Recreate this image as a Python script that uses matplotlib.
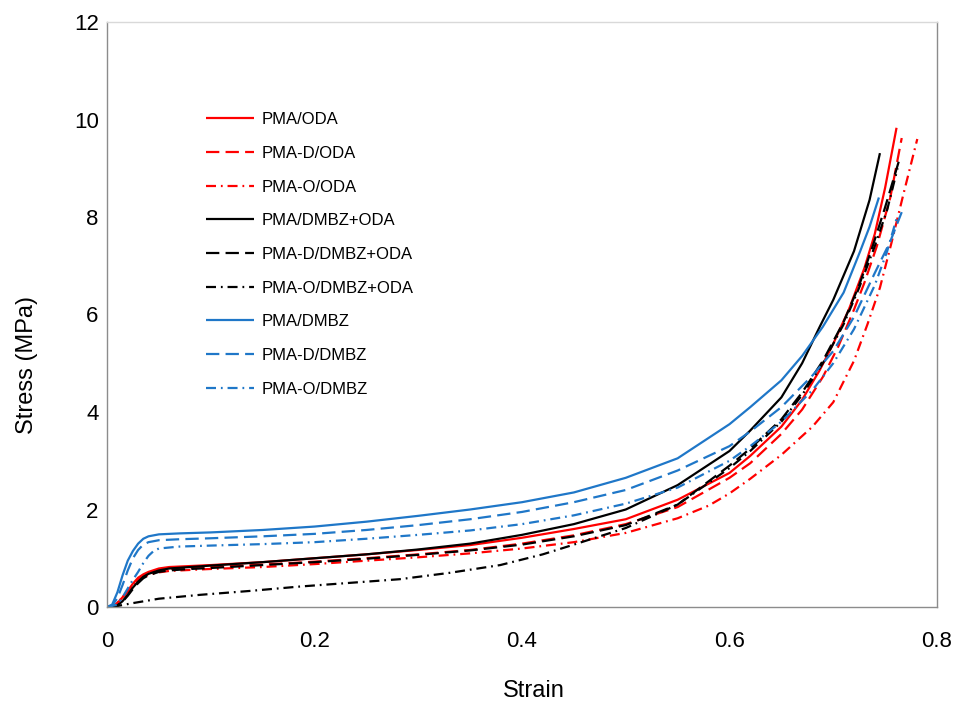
import matplotlib
matplotlib.use("Agg")
import matplotlib.pyplot as plt

plt.rcParams['font.family'] = ['Liberation Sans', 'DejaVu Sans']

# ---- data ----
pma_oda_x = [0, 0.008, 0.015, 0.02, 0.025, 0.03, 0.035, 0.04, 0.05, 0.06, 0.08, 0.1, 0.15, 0.2, 0.25, 0.3, 0.35, 0.4, 0.45, 0.5, 0.55, 0.6, 0.62, 0.65, 0.67, 0.687, 0.7, 0.715, 0.73, 0.74, 0.75, 0.761]
pma_oda_y = [0, 0.03, 0.2, 0.33, 0.48, 0.6, 0.67, 0.72, 0.79, 0.82, 0.84, 0.86, 0.92, 1.0, 1.08, 1.17, 1.27, 1.42, 1.6, 1.8, 2.2, 2.75, 3.1, 3.7, 4.25, 4.86, 5.4, 6.1, 6.95, 7.65, 8.6, 9.83]

pmad_oda_x = [0, 0.008, 0.015, 0.02, 0.025, 0.03, 0.035, 0.04, 0.05, 0.06, 0.08, 0.1, 0.15, 0.2, 0.25, 0.3, 0.35, 0.4, 0.45, 0.5, 0.55, 0.6, 0.62, 0.65, 0.67, 0.69, 0.705, 0.72, 0.73, 0.742, 0.755, 0.766]
pmad_oda_y = [0, 0.04, 0.2, 0.33, 0.46, 0.57, 0.64, 0.69, 0.75, 0.78, 0.8, 0.82, 0.87, 0.93, 1.0, 1.08, 1.17, 1.3, 1.47, 1.7, 2.05, 2.65, 2.95, 3.55, 4.05, 4.72, 5.35, 6.1, 6.65, 7.4, 8.4, 9.62]

pmao_oda_x = [0, 0.008, 0.015, 0.02, 0.025, 0.03, 0.035, 0.04, 0.05, 0.06, 0.08, 0.1, 0.15, 0.2, 0.25, 0.3, 0.35, 0.4, 0.45, 0.5, 0.55, 0.58, 0.6, 0.62, 0.65, 0.68, 0.7, 0.72, 0.733, 0.745, 0.756, 0.768, 0.781]
pmao_oda_y = [0, 0.04, 0.2, 0.32, 0.44, 0.54, 0.61, 0.66, 0.71, 0.74, 0.76, 0.78, 0.82, 0.88, 0.95, 1.02, 1.1, 1.2, 1.33, 1.52, 1.82, 2.08, 2.33, 2.63, 3.12, 3.7, 4.2, 5.05, 5.8, 6.55, 7.46, 8.5, 9.6]

pma_dmo_x = [0, 0.01, 0.015, 0.02, 0.025, 0.03, 0.035, 0.04, 0.05, 0.06, 0.08, 0.1, 0.15, 0.2, 0.25, 0.3, 0.35, 0.4, 0.45, 0.5, 0.55, 0.6, 0.62, 0.65, 0.67, 0.687, 0.7, 0.72, 0.735, 0.745]
pma_dmo_y = [0, 0.03, 0.12, 0.25, 0.4, 0.52, 0.62, 0.68, 0.75, 0.79, 0.82, 0.85, 0.92, 1.0, 1.08, 1.18, 1.3, 1.48, 1.7, 2.0, 2.5, 3.2, 3.62, 4.3, 5.0, 5.75, 6.3, 7.3, 8.35, 9.31]

pmad_dmo_x = [0, 0.01, 0.015, 0.02, 0.025, 0.03, 0.035, 0.04, 0.05, 0.06, 0.08, 0.1, 0.15, 0.2, 0.25, 0.3, 0.35, 0.4, 0.45, 0.5, 0.55, 0.6, 0.62, 0.65, 0.67, 0.69, 0.71, 0.725, 0.738, 0.75, 0.764]
pmad_dmo_y = [0, 0.03, 0.11, 0.23, 0.37, 0.49, 0.59, 0.65, 0.72, 0.75, 0.78, 0.8, 0.86, 0.92, 0.99, 1.07, 1.16, 1.28, 1.45, 1.68, 2.1, 2.9, 3.25, 3.85, 4.4, 5.05, 5.85, 6.6, 7.4, 8.2, 9.2]

pmao_dmo_x = [0.005, 0.025, 0.05, 0.09, 0.138, 0.186, 0.25, 0.282, 0.33, 0.379, 0.42, 0.45, 0.5, 0.55, 0.6, 0.62, 0.65, 0.67, 0.69, 0.71, 0.725, 0.74, 0.752, 0.762]
pmao_dmo_y = [0, 0.08, 0.17, 0.25, 0.33, 0.42, 0.52, 0.57, 0.7, 0.86, 1.08, 1.28, 1.62, 2.1, 2.85, 3.2, 3.8, 4.35, 5.0, 5.8, 6.55, 7.4, 8.15, 9.0]

pma_dm_x = [0, 0.005, 0.01, 0.015, 0.02, 0.025, 0.03, 0.035, 0.04, 0.05, 0.07, 0.1, 0.15, 0.2, 0.25, 0.3, 0.35, 0.4, 0.45, 0.5, 0.55, 0.6, 0.62, 0.65, 0.67, 0.69, 0.71, 0.726, 0.735, 0.744]
pma_dm_y = [0, 0.05, 0.3, 0.65, 0.95, 1.15, 1.3, 1.4, 1.45, 1.49, 1.51, 1.53, 1.58, 1.65, 1.75, 1.87, 2.0, 2.15, 2.35, 2.65, 3.05, 3.75, 4.1, 4.65, 5.15, 5.75, 6.45, 7.3, 7.8, 8.4]

pmad_dm_x = [0, 0.005, 0.01, 0.015, 0.02, 0.025, 0.03, 0.035, 0.04, 0.05, 0.07, 0.1, 0.15, 0.2, 0.25, 0.3, 0.35, 0.4, 0.45, 0.5, 0.55, 0.6, 0.62, 0.65, 0.68, 0.7, 0.72, 0.74, 0.755, 0.766]
pmad_dm_y = [0, 0.03, 0.18, 0.45, 0.75, 1.0, 1.17, 1.28, 1.33, 1.37, 1.39, 1.41, 1.45, 1.5, 1.58, 1.68, 1.8, 1.95, 2.15, 2.4, 2.8, 3.3, 3.6, 4.1, 4.75, 5.25, 5.95, 6.85, 7.5, 8.1]

pmao_dm_x = [0, 0.01, 0.015, 0.02, 0.025, 0.03, 0.035, 0.04, 0.045, 0.05, 0.07, 0.1, 0.15, 0.2, 0.25, 0.3, 0.35, 0.4, 0.45, 0.5, 0.55, 0.6, 0.62, 0.65, 0.68, 0.7, 0.72, 0.74, 0.752, 0.762]
pmao_dm_y = [0, 0.05, 0.2, 0.38, 0.56, 0.72, 0.9, 1.05, 1.15, 1.2, 1.24, 1.26, 1.29, 1.33, 1.4, 1.48, 1.57, 1.7, 1.88, 2.12, 2.45, 3.0, 3.3, 3.8, 4.45, 5.0, 5.7, 6.6, 7.3, 8.04]

labels = ["PMA/ODA", "PMA-D/ODA", "PMA-O/ODA",
          "PMA/DMBZ+ODA", "PMA-D/DMBZ+ODA", "PMA-O/DMBZ+ODA",
          "PMA/DMBZ", "PMA-D/DMBZ", "PMA-O/DMBZ"]
x_ticks = [0, 0.2, 0.4, 0.6, 0.8]
x_tick_labels = ["0", "0.2", "0.4", "0.6", "0.8"]
y_ticks = [0, 2, 4, 6, 8, 10, 12]

# ---- styling ----
RED = "#FF0000"
BLACK = "#000000"
BLUE = "#1F77C8"
solid = "-"
dashed = (0, (6, 2.8))
dashdot = (0, (4.5, 2.2, 0.8, 2.2))

series = [
    (pma_oda_x, pma_oda_y, RED, solid),
    (pmad_oda_x, pmad_oda_y, RED, dashed),
    (pmao_oda_x, pmao_oda_y, RED, dashdot),
    (pma_dmo_x, pma_dmo_y, BLACK, solid),
    (pmad_dmo_x, pmad_dmo_y, BLACK, dashed),
    (pmao_dmo_x, pmao_dmo_y, BLACK, dashdot),
    (pma_dm_x, pma_dm_y, BLUE, solid),
    (pmad_dm_x, pmad_dm_y, BLUE, dashed),
    (pmao_dm_x, pmao_dm_y, BLUE, dashdot),
]

fig = plt.figure(figsize=(9.57, 7.06), dpi=100)
ax = fig.add_axes([107 / 957, 1 - 607 / 706, (937 - 107) / 957, (607 - 22) / 706])

for (xs, ys, c, ls), lab in zip(series, labels):
    ax.plot(xs, ys, color=c, linestyle=ls, linewidth=1.6, label=lab,
            solid_capstyle="butt", dash_capstyle="butt", solid_joinstyle="round")

ax.set_xlim(0, 0.8)
ax.set_ylim(0, 12)
ax.set_xticks(x_ticks)
ax.set_xticklabels(x_tick_labels)
ax.set_yticks(y_ticks)
ax.tick_params(axis="both", length=0, labelsize=16, colors="#000000")
ax.tick_params(axis="x", pad=17)
ax.tick_params(axis="y", pad=6)

for s in ax.spines.values():
    s.set_color("#8C8C8C")
    s.set_linewidth(1.0)
ax.spines["top"].set_color("#D9D9D9")

ax.set_xlabel("Strain", fontsize=17)
ax.xaxis.set_label_coords(0.514, -0.125)
ax.set_ylabel("Stress (MPa)", fontsize=17)
ax.yaxis.set_label_coords(-0.083, 0.414)

leg = ax.legend(loc="upper left", bbox_to_anchor=(0.111, 0.857), frameon=False,
                fontsize=12, handlelength=2.9, handletextpad=0.42,
                labelspacing=1.12, borderaxespad=0)

fig.savefig("out.png", dpi=100)
